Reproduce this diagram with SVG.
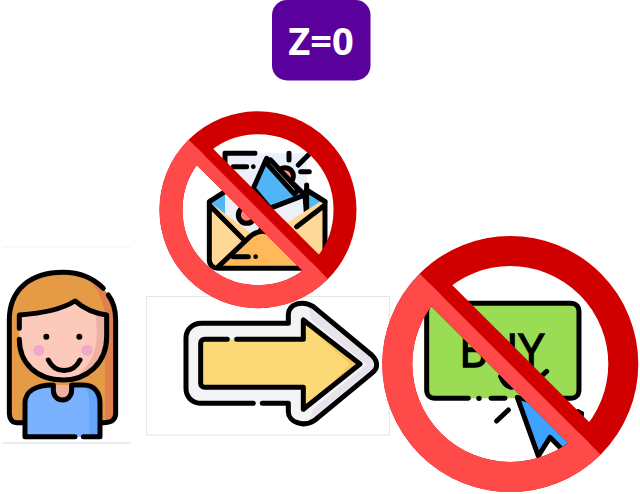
<svg xmlns="http://www.w3.org/2000/svg" width="640" height="494" viewBox="0 0 640 494">
<style>
.k{fill:none;stroke:#000;stroke-width:15;stroke-linecap:round;stroke-linejoin:round}
.o{stroke:#000;stroke-width:15;stroke-linejoin:round}
.n{stroke:none}
.frame{fill:none;stroke:#e6e6e6;stroke-width:1}
.dark{fill:none;stroke:#d10000}
.light{fill:none;stroke:#ff4a4a}
</style>
<defs>
<clipPath id="lowEnv"><polygon points="100,51 100,370 358,309"/></clipPath>
<clipPath id="lowBuy"><polygon points="300,154 300,494 640,494"/></clipPath>
</defs>
<rect width="640" height="494" fill="#fff"/>

<g id="title">
<rect x="272" y="0" width="98.500" height="80.500" rx="15" fill="#5a009d"/>
<text x="321" y="55" text-anchor="middle" font-family="'Open Sans',sans-serif" font-weight="700" font-size="38" fill="#fff">Z=0</text>
</g>

<g id="person">
<line x1="3" y1="247" x2="131" y2="247" stroke="#f3f3f3"/>
<line x1="3" y1="443" x2="131" y2="443" stroke="#dcdcdc"/>
<g transform="translate(0,240) scale(.3333)">
<path class="n" fill="#e59a45" d="M28 240C28 150 90 97 190 97C260 97 347 150 347 240L347 520C347 540 335 548 310 548L50 548C35 548 28 535 28 520Z"/>
<path class="n" fill="#e0804a" d="M255 110C300 125 347 170 347 240L347 520C347 540 335 548 315 548L315 240C315 190 295 140 255 110Z"/>
<path class="k" d="M310 145C280 115 240 97 190 97C90 97 28 150 28 240L28 520C28 535 35 548 50 548L75 548M325 165C340 185 347 210 347 240L347 520C347 540 335 548 310 548L300 548"/>
<path class="n" fill="#fdc9bb" d="M58 225C130 220 190 205 225 183C250 205 280 220 320 225L320 290C320 370 260 420 190 420C110 420 58 370 58 300Z"/>
<path class="n" fill="#eeb0a0" d="M285 220L320 225L320 290C320 370 260 420 205 420C260 400 290 340 290 290C290 265 290 240 285 220Z"/>
<path class="k" d="M58 265L58 225C130 220 190 205 225 183C250 205 280 220 320 225L320 290C320 370 260 420 190 420C110 420 58 370 58 298"/>
<circle cx="139" cy="290" r="9"/>
<circle cx="238" cy="290" r="9"/>
<circle cx="116" cy="331" r="17" fill="#f0a8cc"/>
<circle cx="261" cy="331" r="17" fill="#f0a8cc"/>
<path class="k" d="M145 360C165 402 220 402 240 360"/>
<path class="n" fill="#7ab2ff" d="M75 590L75 490C75 455 105 435 160 435L250 435C285 435 300 460 300 490L300 590Z"/>
<path class="n" fill="#64a4fb" d="M245 435C285 435 300 460 300 490L300 590L268 590L268 490C268 465 262 445 245 435Z"/>
<path class="o" fill="#eeb0a0" d="M160 435L160 450C160 490 215 490 215 450L215 435"/>
<path class="k" d="M160 435C105 435 75 455 75 490L75 590L225 590M250 590L300 590L300 490C300 460 285 435 250 435L215 435"/>
</g>
</g>

<g id="arrow">
<rect class="frame" x="146.500" y="296.500" width="243" height="138.500"/>
<g transform="translate(140,290) scale(.3333)">
<path class="n" fill="#f4f3f6" d="M185 100L445 100L445 75C445 40 490 30 520 50L695 195C715 215 715 235 695 250L525 390C490 415 445 395 445 365L445 340L185 340C155 340 138 320 138 295L138 145C138 120 155 100 185 100Z"/>
<path class="n" fill="#e6e3ec" d="M505 50L690 200Q712 222 690 245L510 388L520 355L680 225L515 90Z"/>
<path class="k" d="M340 340L185 340C155 340 138 320 138 295L138 145C138 120 155 100 185 100L445 100L445 75C445 40 490 30 520 50L695 195C715 215 715 235 695 250L525 390C490 415 445 395 445 365L445 340L367 340"/>
<path class="n" fill="#fcd977" d="M195 148L490 148L490 90L660 222L490 358L490 292L195 292C185 292 182 285 182 280L182 160C182 155 185 148 195 148Z"/>
<path class="n" fill="#f8c85e" d="M500 100L660 222L500 350L520 340L630 222L520 125Z"/>
<path class="k" d="M262 148L195 148C185 148 182 155 182 160L182 280C182 285 185 292 195 292L490 292L490 358L660 222L490 90L490 148L290 148"/>
</g>
</g>

<g id="email">
<g transform="translate(150,100) scale(.3333)">
<polygon class="n" fill="#52b8f5" points="175,305 225,270 225,370"/>
<polygon class="n" fill="#52b8f5" points="470,270 525,305 470,360"/>
<rect class="n" fill="#ecf0f8" x="225" y="160" width="245" height="240"/>
<path class="k" d="M225 270L225 160L315 160M250 200L290 200M417 160L417 180M445 195L475 165M452 215L478 215M470 255L470 270"/>
<circle cx="310" cy="200" r="7"/>
<circle class="o" cx="405" cy="228" r="25" fill="#ff8c78"/>
<path class="o" fill="#4fb5f5" d="M350 175L465 285L360 325L310 265Z"/>
<path class="o" fill="#fff" stroke-width="8" d="M350 190L362 180L445 270L433 282Z"/>
<circle class="o" cx="290" cy="345" r="25" fill="#ff7c78"/>
<path class="o" fill="#ecf0f8" d="M360 325L465 285L470 350L420 390L330 395Z"/>
<path class="o" fill="#52b8f5" d="M470 270L525 305L470 355Z"/>
<path class="n" fill="#ffd898" d="M178 305L330 420L510 305L525 305L525 480C525 495 515 505 500 505L205 505C190 505 178 495 178 480Z"/>
<path class="n" fill="#ffb95a" d="M205 500L300 410C320 392 345 388 370 405L510 500Z"/>
<path class="k" d="M225 275L178 305L178 480C178 495 190 505 205 505L500 505C515 505 525 495 525 480L525 305L470 270M178 315L282 420M525 315L440 380M205 500L300 410C320 392 345 388 370 405L510 500M250 470L295 470"/>
<circle cx="317" cy="470" r="7"/>
</g>
</g>

<g id="buy">
<g transform="translate(380,230) scale(.3333)">
<rect class="n" fill="#9bdc55" x="140" y="220" width="457" height="285" rx="25"/>
<path class="k" d="M265 505L165 505C150 505 140 495 140 480L140 245C140 230 150 220 165 220L572 220C587 220 597 230 597 245L597 480C597 495 587 505 572 505L540 505M333 505L375 505"/>
<circle cx="297" cy="505" r="8"/>
<path class="k" d="M362 440C370 460 380 470 395 472M488 435L500 424M350 573L385 540M595 545C603 550 605 555 604 560"/>
<path class="o" fill="#3fa2ff" d="M412 502L475 678L510 622L548 660L600 620L560 590L605 550Z"/>
</g>
<text x="460" y="367" font-family="'Liberation Sans',sans-serif" font-size="48" textLength="85" lengthAdjust="spacingAndGlyphs" fill="#000" stroke="#000" stroke-width="1.400">BUY</text>
</g>

<g id="ban-email">
<circle class="dark" cx="258" cy="209.700" r="87" stroke-width="23"/>
<line class="dark" x1="196" y1="148" x2="320" y2="272" stroke-width="23"/>
<g clip-path="url(#lowEnv)">
<circle class="light" cx="258" cy="209.700" r="87" stroke-width="23"/>
<line class="light" x1="196" y1="148" x2="320" y2="272" stroke-width="23"/>
</g>
</g>

<g id="ban-buy">
<circle class="dark" cx="510.300" cy="364" r="113" stroke-width="30"/>
<line class="dark" x1="430" y1="284" x2="590" y2="444" stroke-width="30"/>
<g clip-path="url(#lowBuy)">
<circle class="light" cx="510.300" cy="364" r="113" stroke-width="30"/>
<line class="light" x1="430" y1="284" x2="590" y2="444" stroke-width="30"/>
</g>
</g>
</svg>
